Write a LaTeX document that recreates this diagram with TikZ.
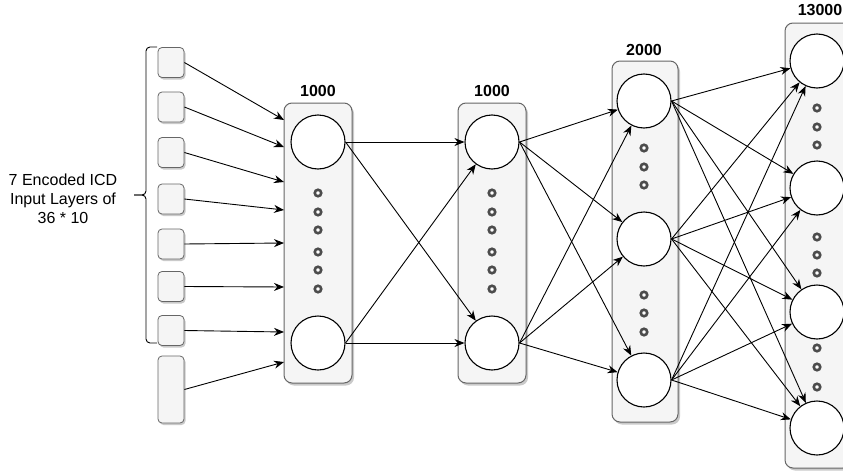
\documentclass[tikz,border=0pt]{standalone}
\usepackage{fontspec}
\setmainfont{Liberation Sans}
\usetikzlibrary{arrows.meta,shadows}

\tikzset{
  layerbox/.style={rectangle, draw=black!60, fill=black!4, rounded corners=8pt, line width=1pt,
    drop shadow={shadow xshift=2pt, shadow yshift=-2.5pt, opacity=0.35, fill=black!60}},
  inbox/.style={rectangle, draw=black!60, fill=black!4, rounded corners=4pt, line width=0.8pt,
    minimum width=26pt, minimum height=30pt, inner sep=0pt,
    drop shadow={shadow xshift=1.5pt, shadow yshift=-2pt, opacity=0.35, fill=black!60}},
  neuron/.style={circle, draw=black, fill=white, line width=1.1pt, minimum size=54pt, inner sep=0pt},
  dotn/.style={circle, draw=black!70, fill=white, line width=2.6pt, minimum size=6.5pt, inner sep=0pt},
  layerlabel/.style={font=\fontsize{16}{19}\selectfont\bfseries},
  link/.style={-{Stealth[length=10pt, width=8pt]}, line width=0.9pt}
}

\begin{document}
\begin{tikzpicture}[x=1pt, y=-1pt]
 \useasboundingbox (0,0) rectangle (843,471);

 %%%%%%%%%% Layer boxes %%%%%%%%%%
 \node[layerbox, minimum width=68pt, minimum height=280pt] (box1) at (318,243) {};
 \node[layerbox, minimum width=68pt, minimum height=280pt] (box2) at (492,243) {};
 \node[layerbox, minimum width=66pt, minimum height=361pt] (box3) at (645,241.5) {};
 \node[layerbox, minimum width=66pt, minimum height=445pt] (box4) at (818,245.5) {};

 \node[layerlabel] (lab1) at (318,91) {1000};
 \node[layerlabel] (lab2) at (492,91) {1000};
 \node[layerlabel] (lab3) at (644,50) {2000};
 \node[layerlabel] (lab4) at (820,10) {13000};

 %%%%%%%%%% Input layers %%%%%%%%%%
 \foreach \i/\y in {1/62.5, 2/107, 3/152.5, 4/199, 5/244, 6/286.5, 7/330.5}
   \node[inbox] (in\i) at (171,\y) {};
 \node[inbox, minimum height=67pt] (in8) at (171,389.5) {};

 % brace and text
 \coordinate (tip) at (134,195);
 \draw[line width=0.9pt, rounded corners=4pt] (157,47) -- (146,47) -- (146,195) -- (tip);
 \draw[line width=0.9pt, rounded corners=4pt] (tip) -- (146,195) -- (146,343) -- (157,343);
 \node[align=center, font=\fontsize{16}{19}\selectfont] (intext) at (63,199)
   {7 Encoded ICD\\Input Layers of\\36 * 10};

 %%%%%%%%%% Neurons %%%%%%%%%%
 \node[neuron] (n11) at (318,142) {};
 \node[neuron] (n12) at (318,343) {};
 \node[neuron] (n21) at (492,142) {};
 \node[neuron] (n22) at (492,343) {};
 \node[neuron] (n31) at (644,101) {};
 \node[neuron] (n32) at (644,239) {};
 \node[neuron] (n33) at (644,380) {};
 \node[neuron] (n41) at (817,61) {};
 \node[neuron] (n42) at (817,188) {};
 \node[neuron] (n43) at (817,312) {};
 \node[neuron] (n44) at (817,428) {};

 % dots
 \foreach \y [count=\k] in {193,212,230,252,270,289} {
   \node[dotn] (d1\k) at (318,\y) {};
   \node[dotn] (d2\k) at (492,\y) {};
 }
 \foreach \y [count=\k] in {148,167,185,295,313,332}
   \node[dotn] (d3\k) at (644,\y) {};
 \foreach \y [count=\k] in {108,127,145,237,255,273,348,367,387}
   \node[dotn] (d4\k) at (817,\y) {};

 %%%%%%%%%% Connections %%%%%%%%%%
 \foreach \i/\y in {1/120, 2/147, 3/182, 4/210, 5/243, 6/287, 7/332, 8/362} {
   \coordinate (t\i) at (284,\y);
   \draw[link] (in\i.east) -- (t\i);
 }

 \foreach \a in {1,2}
   \foreach \b in {1,2}
     \draw[link] (n1\a.east) -- (n2\b);

 \foreach \a in {1,2}
   \foreach \b in {1,2,3}
     \draw[link] (n2\a.east) -- (n3\b);

 \foreach \a in {1,2,3}
   \foreach \b in {1,2,3,4}
     \draw[link] (n3\a.east) -- (n4\b);

\end{tikzpicture}
\end{document}
